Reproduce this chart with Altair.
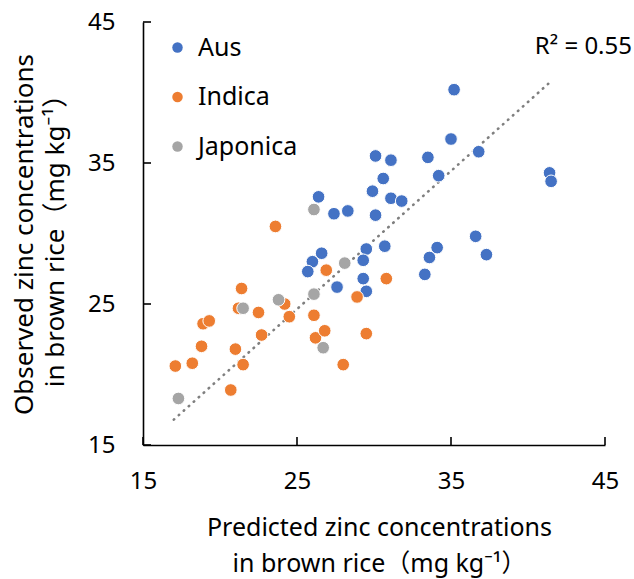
import altair as alt
import pandas as pd

# ---- data ----
groups = ["Aus", "Indica", "Japonica"]
colors = ["#4472C4", "#ED7D31", "#A5A5A5"]

aus_x = [35.2, 35.0, 36.8, 30.1, 31.1, 33.5, 30.6, 34.2, 41.4, 41.5, 29.9, 31.1, 31.8,
         26.4, 27.4, 28.3, 30.1, 36.6, 30.7, 34.1, 29.5, 33.6, 37.3, 26.6, 29.3, 26.0,
         25.7, 29.3, 33.3, 27.6, 29.5]
aus_y = [40.2, 36.7, 35.8, 35.5, 35.2, 35.4, 33.9, 34.1, 34.3, 33.7, 33.0, 32.5, 32.3,
         32.6, 31.4, 31.6, 31.3, 29.8, 29.1, 29.0, 28.9, 28.3, 28.5, 28.6, 28.1, 28.0,
         27.3, 26.8, 27.1, 26.2, 25.9]

indica_x = [23.6, 26.9, 30.8, 28.9, 21.4, 21.2, 24.2, 22.5, 24.5, 26.1, 18.9, 19.3,
            18.8, 22.7, 26.2, 26.8, 29.5, 21.0, 17.1, 18.2, 21.5, 28.0, 20.7]
indica_y = [30.5, 27.4, 26.8, 25.5, 26.1, 24.7, 25.0, 24.4, 24.1, 24.2, 23.6, 23.8,
            22.0, 22.8, 22.6, 23.1, 22.9, 21.8, 20.6, 20.8, 20.7, 20.7, 18.9]

japonica_x = [26.1, 28.1, 26.1, 23.8, 21.5, 26.7, 17.3]
japonica_y = [31.7, 27.9, 25.7, 25.3, 24.7, 21.9, 18.3]

trend_x = [17.0, 41.5]
trend_y = [16.8, 40.8]

tick_values = [15, 25, 35, 45]
r2_label = ["R² = 0.55"]

x_title = ["Predicted zinc concentrations", "in brown rice（mg kg⁻¹）"]
y_title = ["Observed zinc concentrations", "in brown rice（mg kg⁻¹）"]

FONT = "Noto Sans, Noto Sans CJK JP, sans-serif"

# ---- tables ----
rows = []
for g, xs, ys in [("Aus", aus_x, aus_y), ("Indica", indica_x, indica_y),
                  ("Japonica", japonica_x, japonica_y)]:
    for a, b in zip(xs, ys):
        rows.append({"pred": a, "obs": b, "group": g})
df = pd.DataFrame(rows)
df_trend = pd.DataFrame({"pred": trend_x, "obs": trend_y})
df_xt = pd.DataFrame({"pred": tick_values, "obs": [15] * len(tick_values)})
df_yt = pd.DataFrame({"pred": [15] * len(tick_values), "obs": tick_values})
df_r2 = pd.DataFrame({"label": r2_label, "pred": [45], "obs": [43.2]})

xscale = alt.Scale(domain=[15, 45], nice=False, zero=False)
yscale = alt.Scale(domain=[15, 45], nice=False, zero=False)

x_axis = alt.Axis(values=tick_values, tickSize=0, grid=False, domainColor="black",
                  domainWidth=1.6, labelFontSize=24, labelColor="black", labelFont=FONT,
                  labelFlush=False, labelPadding=24, title=x_title, titleFont=FONT,
                  titleFontSize=25, titleFontWeight="normal", titleColor="black",
                  titleX=236, titleY=82, titleBaseline="middle", titleLineHeight=36)
y_axis = alt.Axis(values=tick_values, tickSize=0, grid=False, domainColor="black",
                  domainWidth=1.6, labelFontSize=24, labelColor="black", labelFont=FONT,
                  labelFlush=False, labelPadding=28, title=y_title, titleFont=FONT,
                  titleFontSize=26, titleFontWeight="normal", titleColor="black",
                  titleX=-119, titleY=212, titleBaseline="middle", titleLineHeight=31)

X = alt.X("pred:Q", scale=xscale, axis=x_axis)
Y = alt.Y("obs:Q", scale=yscale, axis=y_axis)

trend = alt.Chart(df_trend).mark_line(
    color="#7F7F7F", strokeWidth=2.6, strokeDash=[0.5, 6.2], strokeCap="round"
).encode(x=X, y=Y)

points = alt.Chart(df).mark_circle(size=160, opacity=1, stroke="white", strokeWidth=1).encode(
    x=X, y=Y,
    color=alt.Color("group:N", scale=alt.Scale(domain=groups, range=colors),
                    legend=alt.Legend(title=None, orient="none", legendX=22, legendY=13,
                                      symbolType="circle", symbolSize=110,
                                      symbolStrokeWidth=0, labelFontSize=25,
                                      labelFont=FONT, labelColor="black",
                                      rowPadding=23.5, labelOffset=8, padding=0)),
)

# inward ticks drawn as short rules starting on the axis lines
ytick = alt.Chart(df_yt).mark_rule(color="black", strokeWidth=1.6, x2Offset=8).encode(
    x=X, x2="pred:Q", y=Y
)

xtick = alt.Chart(df_xt).mark_rule(color="black", strokeWidth=1.6, y2Offset=-8).encode(
    x=X, y=Y, y2="obs:Q"
)

r2 = alt.Chart(df_r2).mark_text(
    align="right", baseline="middle", fontSize=24, font=FONT, color="black", dx=27
).encode(x=X, y=Y, text="label:N")

chart = alt.layer(trend, points, ytick, xtick, r2).properties(
    width=462, height=423,
    padding={"left": 143, "top": 22, "right": 29, "bottom": 134},
    autosize=alt.AutoSizeParams(type="none"),
).configure_view(stroke=None)

chart.save("out.html", embed_options={"renderer": "svg", "actions": False})
